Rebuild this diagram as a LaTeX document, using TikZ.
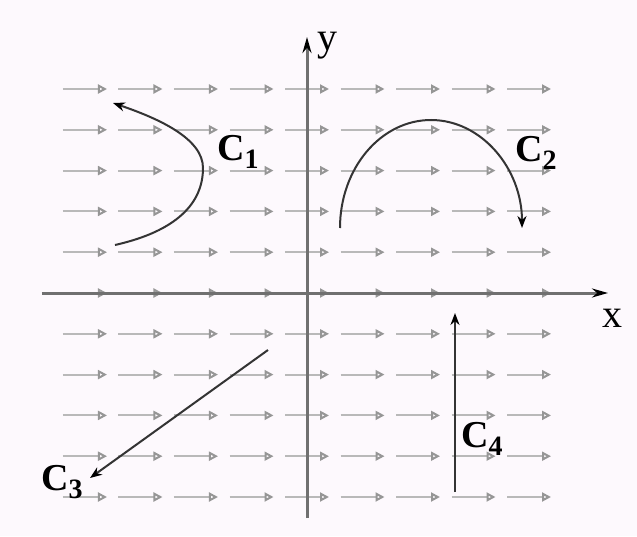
\documentclass[tikz,border=0pt]{standalone}
\usepackage{fontspec}
\setmainfont{Liberation Serif}
\usetikzlibrary{arrows.meta}
\definecolor{PaperWhite}{RGB}{253, 249, 253}
\definecolor{FieldGray}{RGB}{185, 185, 185}
\definecolor{HeadGray}{RGB}{150, 150, 150}
\definecolor{AxisGray}{RGB}{112, 112, 112}
\definecolor{CurveDark}{RGB}{52, 52, 52}
\newcommand{\curvesub}[1]{\raisebox{-0.2em}{\fontsize{14}{14}\selectfont #1}}
\tikzset{
    field/.style={FieldGray, line width=1pt, -{Triangle[open, length=4.5pt, width=4.5pt, color=HeadGray]}},
    axis/.style={AxisGray, line width=1.5pt, -{Stealth[length=8pt, width=4.5pt, color=black]}},
    curve/.style={CurveDark, line width=1pt, -{Stealth[length=6pt, width=4.5pt, color=black]}},
    curvelabel/.style={inner sep=0pt, font=\fontsize{19}{21}\selectfont\bfseries},
    axislabel/.style={inner sep=0pt, font=\fontsize{20}{22}\selectfont},
}

\begin{document}
\begin{tikzpicture}[x=0.5pt, y=0.5pt]
    % page
    \fill[PaperWhite] (-307,-243) rectangle (330,293);
    \useasboundingbox (-307,-243) rectangle (330,293);
    % field F = i
    \foreach \i in {-4,...,4}
        \foreach \j in {-5,...,5}
            \draw[field] ({55.5*\i-22},{40.8*\j}) -- ++(44,0);
    % axes
    \coordinate (xstart) at (-265,0);
    \coordinate (xend) at (301,0);
    \coordinate (ystart) at (0,-225);
    \coordinate (yend) at (0,256);
    \draw[axis] (xstart) -- (xend);
    \draw[axis] (ystart) -- (yend);
    \node[axislabel] (xlabel) at (305,-25) {x};
    \node[axislabel] (ylabel) at (20,247) {y};
    % the four paths
    \coordinate (c1start) at (-192,48);
    \coordinate (c1end) at (-194,190);
    \coordinate (c2start) at (33,65);
    \coordinate (c3start) at (-39,-57);
    \coordinate (c3end) at (-217,-185);
    \coordinate (c4start) at (148,-199);
    \coordinate (c4end) at (148,-20);
    \draw[curve] (c1start) .. controls (-130,62) and (-104,90) .. (-104,125)
        .. controls (-104,155) and (-150,175) .. (c1end);
    \draw[curve] (c2start) arc[start angle=180, end angle=0, x radius=91, y radius=108];
    \draw[curve] (c3start) -- (c3end);
    \draw[curve] (c4start) -- (c4end);
    \node[curvelabel] (c1label) at (-69,141) {C\curvesub{1}};
    \node[curvelabel] (c2label) at (229,140) {C\curvesub{2}};
    \node[curvelabel] (c3label) at (-245,-189) {C\curvesub{3}};
    \node[curvelabel] (c4label) at (175,-146) {C\curvesub{4}};
\end{tikzpicture}
\end{document}
